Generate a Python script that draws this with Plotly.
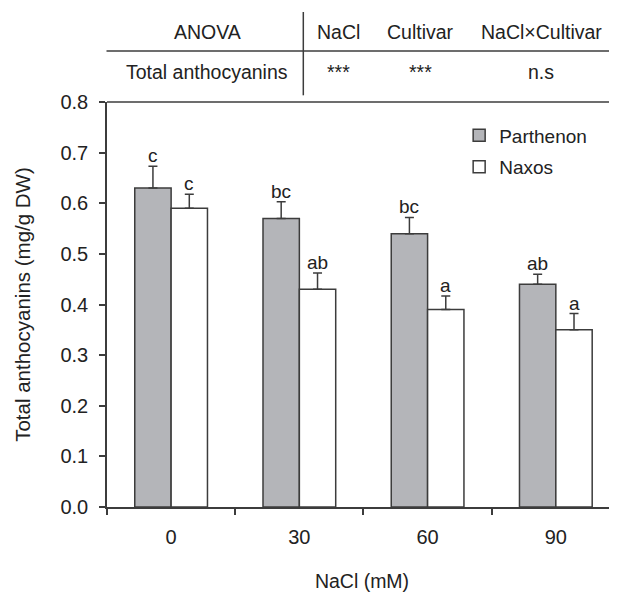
import plotly.graph_objects as go

categories = ["0", "30", "60", "90"]
parthenon = [0.63, 0.57, 0.54, 0.44]
parthenon_err = [0.043, 0.033, 0.032, 0.02]
naxos = [0.59, 0.43, 0.39, 0.35]
naxos_err = [0.028, 0.032, 0.027, 0.032]
parthenon_letters = ["c", "bc", "bc", "ab"]
naxos_letters = ["c", "ab", "a", "a"]

anova_header = ["ANOVA", "NaCl", "Cultivar", "NaCl×Cultivar"]
anova_row = ["Total anthocyanins", "***", "***", "n.s"]

FONT = "Liberation Sans, Arial, sans-serif"
TXT = "#222222"
LINE = "#3c3c3c"
BARGAP = 0.433

# page body has an 8px default margin; the figure is sized to fit the window
OFF = 8
W, H = 617 - OFF, 592 - OFF
ML, MR, MT = 106.5 - OFF, 0, 101.7 - OFF
MB = H - (506.7 - OFF)
pw = W - ML - MR
ph = H - MT - MB

def px_x(px):
    return (px - OFF - ML) / pw

def px_y(py):
    return (H - MB - (py - OFF)) / ph

fig = go.Figure()
fig.add_trace(go.Bar(
    x=categories, y=parthenon, name="Parthenon", legendgroup="p",
    marker=dict(color="#b4b5b9", line=dict(color=LINE, width=1.5)),
    error_y=dict(type="data", array=parthenon_err, symmetric=False,
                 arrayminus=[0] * len(parthenon), color=LINE, thickness=1.5, width=4.5),
))
fig.add_trace(go.Bar(
    x=categories, y=naxos, name="Naxos", legendgroup="n",
    marker=dict(color="#ffffff", line=dict(color=LINE, width=1.5)),
    error_y=dict(type="data", array=naxos_err, symmetric=False,
                 arrayminus=[0] * len(naxos), color=LINE, thickness=1.5, width=4.5),
))

half = (1 - BARGAP) / 4
annotations = []
for i in range(len(categories)):
    annotations.append(dict(x=i - half, y=parthenon[i] + parthenon_err[i], xref="x", yref="y",
                            text=parthenon_letters[i], showarrow=False, yanchor="bottom", yshift=-2,
                            font=dict(size=19, color=TXT, family=FONT)))
    annotations.append(dict(x=i + half, y=naxos[i] + naxos_err[i], xref="x", yref="y",
                            text=naxos_letters[i], showarrow=False, yanchor="bottom", yshift=-2,
                            font=dict(size=19, color=TXT, family=FONT)))

col_x = [207, 338, 420, 541]
for cx, t in zip(col_x, anova_header):
    annotations.append(dict(x=px_x(cx), y=px_y(31.7), xref="paper", yref="paper", text=t,
                            showarrow=False, xanchor="center", yanchor="middle",
                            font=dict(size=19.5, color=TXT, family=FONT)))
for cx, t in zip(col_x, anova_row):
    annotations.append(dict(x=px_x(cx), y=px_y(71.7), xref="paper", yref="paper", text=t,
                            showarrow=False, xanchor="center", yanchor="middle",
                            font=dict(size=19.5, color=TXT, family=FONT)))

shapes = [
    dict(type="line", xref="paper", yref="paper", x0=px_x(106), x1=1, y0=px_y(50.7), y1=px_y(50.7),
         line=dict(color=LINE, width=1.5)),
    dict(type="line", xref="paper", yref="paper", x0=px_x(303), x1=px_x(303), y0=px_y(11.7), y1=px_y(95),
         line=dict(color=LINE, width=1.5)),
    dict(type="line", xref="paper", yref="paper", x0=0, x1=1, y0=1, y1=1,
         line=dict(color=LINE, width=1.5)),
]

fig.update_layout(
    width=W, height=H,
    margin=dict(l=ML, r=MR, t=MT, b=MB, pad=0),
    paper_bgcolor="white", plot_bgcolor="white",
    barmode="group", bargap=BARGAP, bargroupgap=0,
    font=dict(family=FONT, size=19, color=TXT),
    showlegend=True,
    legend=dict(x=px_x(459), y=px_y(116), xanchor="left", yanchor="top",
                bgcolor="rgba(0,0,0,0)", font=dict(size=19, color=TXT, family=FONT),
                tracegroupgap=4, itemwidth=30),
    annotations=annotations,
    shapes=shapes,
    xaxis=dict(type="category", range=[-0.5, 3.477], tickson="boundaries",
               showline=True, linecolor=LINE, linewidth=1.5,
               ticks="outside", ticklen=6, tickwidth=1.5, tickcolor=LINE,
               tickfont=dict(size=20, color=TXT), ticklabelstandoff=11,
               title=dict(text="NaCl (mM)", font=dict(size=19.5, color=TXT), standoff=28),
               showgrid=False, zeroline=False),
    yaxis=dict(range=[0, 0.8], dtick=0.1, tickformat=".1f",
               showline=True, linecolor=LINE, linewidth=1.5,
               ticks="outside", ticklen=6, tickwidth=1.5, tickcolor=LINE,
               tickfont=dict(size=20, color=TXT), ticklabelstandoff=7,
               title=dict(text="Total anthocyanins (mg/g DW)", font=dict(size=20.5, color=TXT), standoff=24),
               showgrid=False, zeroline=False),
)

fig.write_html("out.html")
